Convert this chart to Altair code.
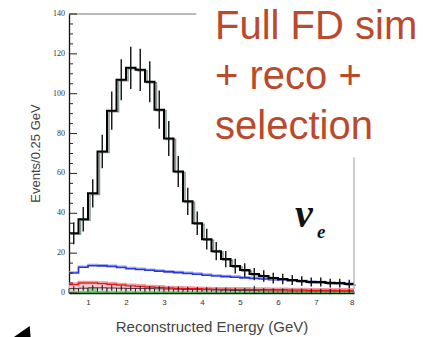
import altair as alt
import pandas as pd

# ---------------- data ----------------
bin_lo = [0.5, 0.75, 1.0, 1.25, 1.5, 1.75, 2.0, 2.25, 2.5, 2.75,
          3.0, 3.25, 3.5, 3.75, 4.0, 4.25, 4.5, 4.75, 5.0, 5.25,
          5.5, 5.75, 6.0, 6.25, 6.5, 6.75, 7.0, 7.25, 7.5, 7.75]
x_end = 8.0

signal = [30, 37, 50, 71, 91.5, 107, 113, 112, 106, 92,
          77.5, 61, 46, 35, 27, 21, 17, 13.5, 11.5, 9.5,
          8.5, 7.5, 7, 6.5, 6, 5.5, 5.5, 5, 5, 4.5]
signal_err = [5.5, 6.1, 7.1, 8.4, 9.6, 10.3, 10.6, 10.6, 10.3, 9.6,
              8.8, 7.8, 6.8, 5.9, 5.2, 4.6, 4.1, 3.7, 3.4, 3.1,
              2.9, 2.7, 2.6, 2.5, 2.4, 2.3, 2.3, 2.2, 2.2, 2.1]

blue = [10, 12.9, 13.7, 13.6, 13.3, 12.8, 12.2, 11.8, 11.4, 11.0,
        10.6, 10.2, 9.8, 9.4, 8.9, 8.5, 8.2, 7.9, 7.6, 7.3,
        7.0, 6.7, 6.4, 6.0, 5.8, 5.5, 5.2, 4.9, 4.7, 4.4]

red = [4.2, 5.0, 5.0, 4.7, 4.4, 4.0, 3.6, 3.3, 3.0, 2.8,
       2.5, 2.3, 2.2, 2.1, 2.0, 1.9, 1.9, 1.8, 1.8, 1.7,
       1.7, 1.6, 1.6, 1.5, 1.5, 1.4, 1.4, 1.4, 1.3, 1.3]

nc = [2.2, 2.4, 2.6, 2.6, 2.5, 2.4, 2.3, 2.3, 2.2, 2.1,
      2.0, 1.9, 1.8, 1.7, 1.6, 1.5, 1.4, 1.3, 1.2, 1.2,
      1.1, 1.0, 1.0, 0.9, 0.9, 0.8, 0.8, 0.7, 0.7, 0.7]
nc_err = [1.2, 1.3, 1.4, 1.4, 1.4, 1.3, 1.3, 1.3, 1.3, 1.3,
          1.3, 1.3, 1.3, 1.3, 1.3, 1.3, 1.3, 1.3, 1.3, 2.4,
          1.3, 1.3, 1.3, 1.3, 1.3, 1.3, 1.3, 1.3, 1.3, 1.3]
green = [0.4, 0.8, 2.6, 1.0, 0.5, 0.4, 0.3, 0.3, 0.3, 0.2,
         0.2, 0.2, 0.2, 0.2, 0.2, 0.2, 0.2, 0.2, 0.2, 0.2,
         0.2, 0.2, 0.2, 0.2, 0.2, 0.2, 0.2, 0.2, 0.2, 0.2]

x_ticks = [1, 2, 3, 4, 5, 6, 7, 8]
y_ticks = [0, 20, 40, 60, 80, 100, 120, 140]
y_minor = [5, 10, 15, 25, 30, 35, 45, 50, 55, 65, 70, 75, 85, 90, 95,
           105, 110, 115, 125, 130, 135]

annotation = ["Full FD sim", "+ reco +", "selection"]

# ---------------- tables ----------------
bins = pd.DataFrame({"lo": bin_lo, "hi": bin_lo[1:] + [x_end],
                     "sig": signal, "err": signal_err,
                     "blue": blue, "red": red, "nc": nc, "nc_err": nc_err,
                     "green": green})
bins["zero"] = 0.0
bins["ctr"] = (bins["lo"] + bins["hi"]) / 2
bins["sig_lo"] = bins["sig"] - bins["err"]
bins["sig_hi"] = bins["sig"] + bins["err"]
bins["nc_lo"] = (bins["nc"] - bins["nc_err"]).clip(lower=0)
bins["nc_hi"] = bins["nc"] + bins["nc_err"]

steps = pd.DataFrame({"x": bin_lo + [x_end],
                      "sig": signal + [signal[-1]],
                      "blue": blue + [blue[-1]],
                      "red": red + [red[-1]]})

frame = pd.DataFrame({"x1": [0.5, 8.0, 0.5], "x2": [3.85, 8.0, 8.0],
                      "y1": [140, 2, 0.4], "y2": [140, 68, 0.4],
                      "piece": ["top", "right", "base"]})

X = alt.Scale(domain=[0.5, 8], nice=False, zero=False)
Y = alt.Scale(domain=[0, 140], nice=False)

xax = alt.Axis(values=x_ticks, title="Reconstructed Energy (GeV)", grid=False,
               ticks=False, labelFontSize=8, labelColor="#333", labelPadding=5,
               labelFont="Liberation Sans", domainColor="#111", domainWidth=1.3,
               labelOverlap=False,
               titleFont="Liberation Sans", titleFontSize=15, titleFontWeight="normal",
               titleColor="#444", titleBaseline="alphabetic", titleY=38)
yax = alt.Axis(values=y_ticks, title="Events/0.25 GeV", grid=False, ticks=False,
               labels=False, domainColor="#111", domainWidth=1.3,
               titleFont="Liberation Sans", titleFontSize=13, titleFontWeight="normal",
               titleColor="#444", titleX=-34, titleY=139, titleAlign="center",
               titleBaseline="middle", titleAngle=-90)

base_bins = alt.Chart(bins)
base_steps = alt.Chart(steps)

red_area = base_steps.mark_area(interpolate="step-after", color="#f6c4c8", opacity=0.9).encode(
    x=alt.X("x:Q", scale=X, axis=xax), y=alt.Y("red:Q", scale=Y, axis=yax))
green_bars = base_bins.mark_rect(color="#22c42a").encode(
    x="lo:Q", x2="hi:Q", y="green:Q", y2="zero:Q")
nc_boxes = base_bins.mark_rect(fill="#e6e6e6", fillOpacity=0.6, stroke="#111", strokeWidth=0.8).encode(
    x="lo:Q", x2="hi:Q", y="nc:Q", y2="zero:Q")
nc_err_rules = base_bins.mark_rule(color="#111", strokeWidth=1).encode(
    x="ctr:Q", y="nc_lo:Q", y2="nc_hi:Q")

base_rule = alt.Chart(frame[frame.piece == "base"]).mark_rule(color="#44bb44", strokeWidth=1.2).encode(
    x="x1:Q", x2="x2:Q", y="y1:Q")
top_rule = alt.Chart(frame[frame.piece == "top"]).mark_rule(color="#777", strokeWidth=1.2).encode(
    x="x1:Q", x2="x2:Q", y="y1:Q")
right_rule = alt.Chart(frame[frame.piece == "right"]).mark_rule(color="#aaa", strokeWidth=1.2).encode(
    x="x1:Q", y="y1:Q", y2="y2:Q")

red_shadow = base_steps.mark_line(interpolate="step-after", color="#f39aa0", strokeWidth=1.6,
                                  yOffset=-1.5).encode(x="x:Q", y="red:Q")
red_line = base_steps.mark_line(interpolate="step-after", color="#e8141c", strokeWidth=1.4).encode(
    x="x:Q", y="red:Q")
blue_shadow = base_steps.mark_line(interpolate="step-after", color="#9fa8f0", strokeWidth=1.4,
                                   yOffset=-1.2).encode(x="x:Q", y="blue:Q")
blue_line = base_steps.mark_line(interpolate="step-after", color="#2437e0", strokeWidth=1.6).encode(
    x="x:Q", y="blue:Q")

sig_shadow = base_steps.mark_line(interpolate="step-after", color="#8a9a9a", strokeWidth=1.6,
                                  xOffset=2, yOffset=1).encode(x="x:Q", y="sig:Q")
sig_line = base_steps.mark_line(interpolate="step-after", color="#000", strokeWidth=2.0).encode(
    x="x:Q", y="sig:Q")
sig_err = base_bins.mark_rule(color="#111", strokeWidth=1.4).encode(
    x="ctr:Q", y="sig_lo:Q", y2="sig_hi:Q")

yticks_df = pd.DataFrame({"v": y_ticks, "lab": [str(v) for v in y_ticks]})
ymaj = alt.Chart(yticks_df).mark_rule(color="#222", strokeWidth=1).encode(
    y="v:Q", x=alt.value(0), x2=alt.value(8))
ymin = alt.Chart(pd.DataFrame({"v": y_minor})).mark_rule(color="#222", strokeWidth=1).encode(
    y="v:Q", x=alt.value(0), x2=alt.value(4))
ylabels = alt.Chart(yticks_df).mark_text(
    align="right", baseline="middle", font="Liberation Serif", fontSize=8,
    fill="#333").encode(y="v:Q", text="lab:N", x=alt.value(-4))

anno = alt.Chart(pd.DataFrame({"t": ["\n".join(annotation)]})).mark_text(
    align="left", baseline="alphabetic", font="Liberation Sans", fontSize=40,
    fill="#b94a2b", lineHeight=50, lineBreak="\n").encode(
    text="t:N", x=alt.value(146), y=alt.value(25))
nu = alt.Chart(pd.DataFrame({"t": ["ν"]})).mark_text(
    align="left", baseline="alphabetic", font="Liberation Serif", fontSize=40,
    fontStyle="italic", fontWeight="bold", fill="#111").encode(
    text="t:N", x=alt.value(226), y=alt.value(213))
sub_e = alt.Chart(pd.DataFrame({"t": ["e"]})).mark_text(
    align="left", baseline="alphabetic", font="Liberation Serif", fontSize=19,
    fontStyle="italic", fontWeight="bold", fill="#111").encode(
    text="t:N", x=alt.value(248), y=alt.value(224))
arrow = alt.Chart(pd.DataFrame({"t": [1]})).mark_point(
    shape="triangle-up", filled=True, color="#000", size=650, angle=25, opacity=1).encode(
    x=alt.value(-44), y=alt.value(322))

chart = alt.layer(
    red_area, green_bars, nc_boxes, base_rule, red_shadow, red_line, nc_err_rules,
    blue_shadow, blue_line, sig_shadow, sig_line, sig_err,
    top_rule, right_rule, ymaj, ymin, ylabels, anno, nu, sub_e, arrow
).properties(
    width=285, height=279,
    autosize=alt.AutoSizeParams(type="none"),
    padding={"left": 61, "top": 6, "right": 85, "bottom": 46},
    background="white",
).configure_view(stroke=None)

chart.save("out.html", embed_options={"renderer": "svg", "actions": False})
